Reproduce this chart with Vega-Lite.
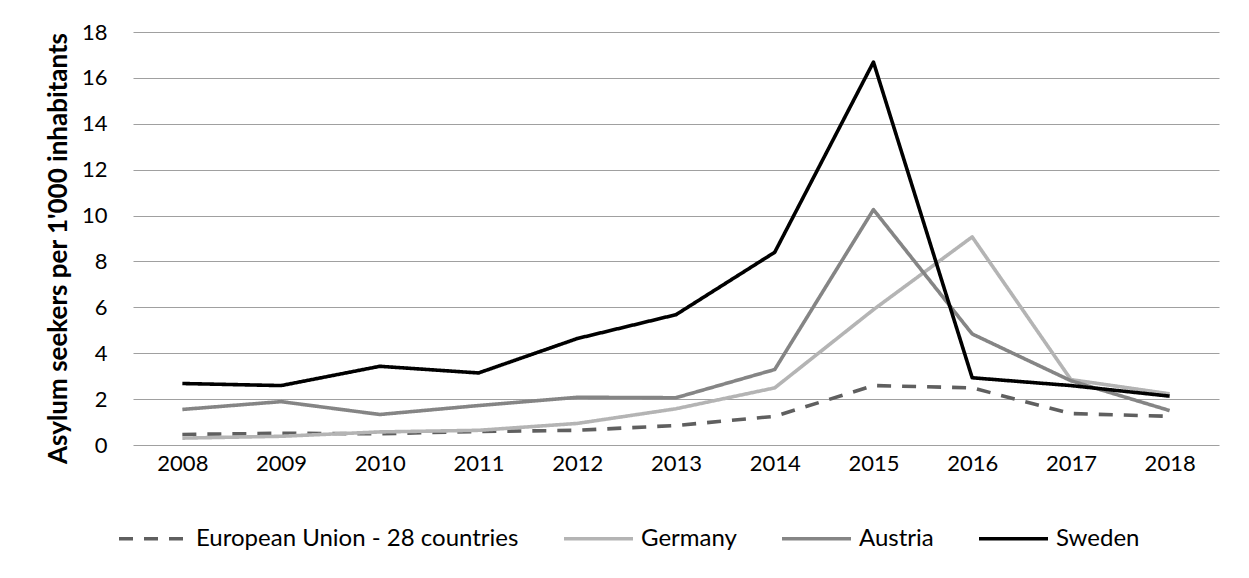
{
  "$schema": "https://vega.github.io/schema/vega-lite/v6.json",
  "width": 1086,
  "height": 413,
  "autosize": {"type": "none"},
  "padding": {"left": 133, "top": 32, "right": 30, "bottom": 133},
  "background": "white",
  "data": {
    "values": [
      {"year": "2008", "series": "European Union - 28 countries", "value": 0.46},
      {"year": "2009", "series": "European Union - 28 countries", "value": 0.51},
      {"year": "2010", "series": "European Union - 28 countries", "value": 0.49},
      {"year": "2011", "series": "European Union - 28 countries", "value": 0.59},
      {"year": "2012", "series": "European Union - 28 countries", "value": 0.64},
      {"year": "2013", "series": "European Union - 28 countries", "value": 0.85},
      {"year": "2014", "series": "European Union - 28 countries", "value": 1.25},
      {"year": "2015", "series": "European Union - 28 countries", "value": 2.59},
      {"year": "2016", "series": "European Union - 28 countries", "value": 2.49},
      {"year": "2017", "series": "European Union - 28 countries", "value": 1.37},
      {"year": "2018", "series": "European Union - 28 countries", "value": 1.25},
      {"year": "2008", "series": "Germany", "value": 0.3},
      {"year": "2009", "series": "Germany", "value": 0.38},
      {"year": "2010", "series": "Germany", "value": 0.57},
      {"year": "2011", "series": "Germany", "value": 0.64},
      {"year": "2012", "series": "Germany", "value": 0.94},
      {"year": "2013", "series": "Germany", "value": 1.58},
      {"year": "2014", "series": "Germany", "value": 2.49},
      {"year": "2015", "series": "Germany", "value": 5.9},
      {"year": "2016", "series": "Germany", "value": 9.07},
      {"year": "2017", "series": "Germany", "value": 2.85},
      {"year": "2018", "series": "Germany", "value": 2.23},
      {"year": "2008", "series": "Austria", "value": 1.55},
      {"year": "2009", "series": "Austria", "value": 1.89},
      {"year": "2010", "series": "Austria", "value": 1.33},
      {"year": "2011", "series": "Austria", "value": 1.72},
      {"year": "2012", "series": "Austria", "value": 2.08},
      {"year": "2013", "series": "Austria", "value": 2.06},
      {"year": "2014", "series": "Austria", "value": 3.29},
      {"year": "2015", "series": "Austria", "value": 10.26},
      {"year": "2016", "series": "Austria", "value": 4.84},
      {"year": "2017", "series": "Austria", "value": 2.8},
      {"year": "2018", "series": "Austria", "value": 1.5},
      {"year": "2008", "series": "Sweden", "value": 2.68},
      {"year": "2009", "series": "Sweden", "value": 2.59},
      {"year": "2010", "series": "Sweden", "value": 3.43},
      {"year": "2011", "series": "Sweden", "value": 3.14},
      {"year": "2012", "series": "Sweden", "value": 4.64},
      {"year": "2013", "series": "Sweden", "value": 5.68},
      {"year": "2014", "series": "Sweden", "value": 8.4},
      {"year": "2015", "series": "Sweden", "value": 16.69},
      {"year": "2016", "series": "Sweden", "value": 2.93},
      {"year": "2017", "series": "Sweden", "value": 2.59},
      {"year": "2018", "series": "Sweden", "value": 2.13}
    ]
  },
  "mark": {"type": "line", "strokeJoin": "round"},
  "encoding": {
    "x": {
      "field": "year",
      "type": "ordinal",
      "scale": {"type": "point", "padding": 0.5},
      "axis": {
        "title": null,
        "labelAngle": 0,
        "domain": false,
        "ticks": false,
        "grid": false,
        "labelPadding": 8,
        "labelFont": "Lato",
        "labelFontSize": 22,
        "labelColor": "#000000"
      }
    },
    "y": {
      "field": "value",
      "type": "quantitative",
      "scale": {"domain": [0, 18], "nice": false, "zero": true},
      "axis": {
        "title": "Asylum seekers per 1'000 inhabitants",
        "values": [0, 2, 4, 6, 8, 10, 12, 14, 16, 18],
        "domain": false,
        "ticks": false,
        "grid": true,
        "gridColor": "#a0a0a0",
        "gridWidth": 1.2,
        "gridOpacity": 1,
        "labelPadding": 26,
        "labelFont": "Lato",
        "labelFontSize": 22,
        "labelColor": "#000000",
        "titleFont": "Lato",
        "titleFontSize": 26,
        "titleFontWeight": "bold",
        "titleColor": "#000000",
        "titlePadding": 10,
        "titleY": 216
      }
    },
    "color": {
      "field": "series",
      "type": "nominal",
      "sort": ["European Union - 28 countries", "Germany", "Austria", "Sweden"],
      "scale": {
        "domain": ["European Union - 28 countries", "Germany", "Austria", "Sweden"],
        "range": ["#5f5f5f", "#b4b4b4", "#858585", "#000000"]
      },
      "legend": {
        "title": null,
        "orient": "none",
        "direction": "horizontal",
        "legendX": -16,
        "legendY": 470,
        "symbolType": "stroke",
        "symbolSize": 4761,
        "symbolStrokeWidth": 3.8,
        "labelFont": "Lato",
        "labelFontSize": 24,
        "labelColor": "#000000",
        "labelOffset": 6,
        "columnPadding": 37,
        "labelLimit": 500
      }
    },
    "strokeDash": {
      "field": "series",
      "type": "nominal",
      "sort": ["European Union - 28 countries", "Germany", "Austria", "Sweden"],
      "scale": {
        "domain": ["European Union - 28 countries", "Germany", "Austria", "Sweden"],
        "range": [[14, 11], [1, 0], [1, 0], [1, 0]]
      },
      "legend": null
    },
    "strokeWidth": {
      "field": "series",
      "type": "nominal",
      "scale": {
        "domain": ["European Union - 28 countries", "Germany", "Austria", "Sweden"],
        "range": [3.6, 3.6, 3.6, 4.2]
      },
      "legend": null
    },
    "order": {"field": "series"}
  },
  "config": {
    "view": {"stroke": null}
  }
}
